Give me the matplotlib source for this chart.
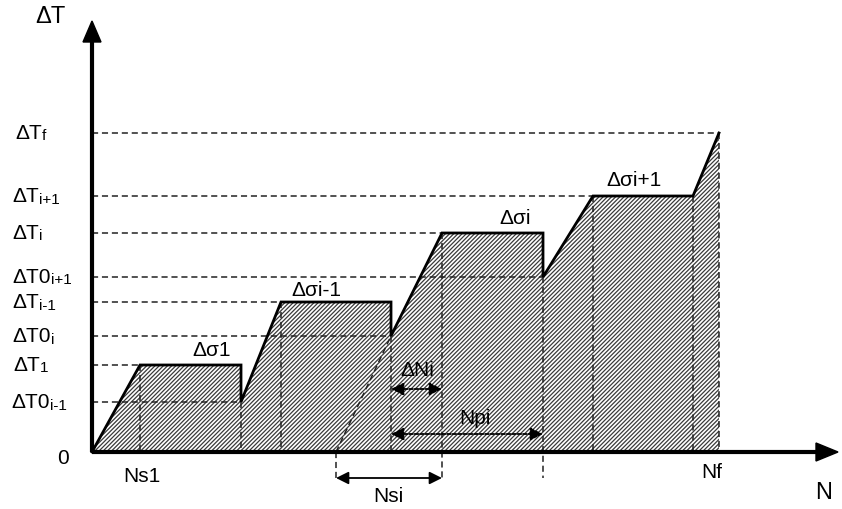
import matplotlib
matplotlib.use("Agg")
import matplotlib.pyplot as plt
from matplotlib.patches import Polygon, FancyArrowPatch

plt.rcParams['font.family'] = ['Liberation Sans', 'DejaVu Sans']

# Schematic coordinates (pixel-like units, y grows downward)
X0, Y0 = 92, 452
# loading history vertices (x, y)
curve_x = [92, 140, 241, 241, 281, 391, 391, 442, 543, 543, 593, 693, 719, 719]
curve_y = [452, 365, 365, 402, 302, 302, 336, 233, 233, 277, 196, 196, 133, 452]

# y-level labels and their pixel levels
level_labels = [('ΔT', 'f'), ('ΔT', 'i+1'), ('ΔT', 'i'), ('ΔT0', 'i+1'),
                ('ΔT', 'i-1'), ('ΔT0', 'i'), ('ΔT', '1'), ('ΔT0', 'i-1')]
level_y = [133, 196, 233, 277, 302, 336, 365, 402]
level_xend = [719, 593, 442, 543, 281, 391, 140, 241]
level_label_x = [15, 12, 12, 12, 12, 12, 13, 11]

# vertical dashed lines: x, y_top, y_bottom
vline_x = [140, 241, 281, 391, 442, 543, 593, 693, 719]
vline_top = [365, 402, 302, 336, 233, 277, 196, 196, 133]
vline_bot = [452, 452, 452, 452, 480, 478, 452, 452, 452]

stage_labels = ['Δσ1', 'Δσi-1', 'Δσi', 'Δσi+1']
stage_pos = [(212, 350), (316, 291), (515, 219), (634, 180)]

fig = plt.figure(figsize=(8.42, 5.09), dpi=100)
ax = fig.add_axes([0, 0, 1, 1])
ax.set_xlim(0, 842)
ax.set_ylim(509, 0)
ax.axis('off')

plt.rcParams['hatch.linewidth'] = 0.9
poly = Polygon(list(zip(curve_x, curve_y)), closed=True, facecolor='white',
               edgecolor='#3a3a3a', hatch='////////', linewidth=0, zorder=1)
ax.add_patch(poly)

# loading path outline
ax.plot(curve_x[:-1], curve_y[:-1], color='black', lw=2.0, zorder=4,
        solid_joinstyle='miter')

dash = dict(color='#222222', lw=1.1, ls=(0, (4, 2.5)), zorder=3)
for y, xe in zip(level_y, level_xend):
    ax.plot([X0, xe], [y, y], **dash)
for x, yt, yb in zip(vline_x, vline_top, vline_bot):
    ax.plot([x, x], [yt, yb], **dash)
# Nsi start vertical and extrapolated ramp
ax.plot([336, 336], [452, 480], **dash)
ax.plot([336, 391], [452, 336], **dash)

# axes with arrows
ax.plot([X0, X0], [Y0, 40], color='black', lw=3, zorder=5, solid_capstyle='butt')
ax.plot([X0, 820], [Y0, Y0], color='black', lw=3, zorder=5, solid_capstyle='butt')
ax.add_patch(Polygon([(83, 42), (101, 42), (92, 21)], closed=True,
                     color='black', zorder=6))
ax.add_patch(Polygon([(816, 443), (816, 461), (838, 452)], closed=True,
                     color='black', zorder=6))

# dimension arrows
def darrow(x1, x2, y, ls):
    a = FancyArrowPatch((x1, y), (x2, y), arrowstyle='<|-|>,head_length=5,head_width=2.5',
                        mutation_scale=1.5, color='black', lw=1.3, ls=ls, zorder=6,
                        shrinkA=0, shrinkB=0)
    ax.add_patch(a)

darrow(391, 442, 389, (0, (2, 1)))
darrow(391, 543, 434, (0, (2, 1)))
darrow(336, 442, 478, '-')

fs = 15
fs_sub = 11
renderer = fig.canvas.get_renderer()
for (main, sub), y, lx in zip(level_labels, level_y, level_label_x):
    t = ax.text(lx, y + 6, main, fontsize=fs, ha='left', va='baseline')
    bb = t.get_window_extent(renderer=renderer)
    xr = ax.transData.inverted().transform((bb.x1, bb.y0))[0]
    ax.text(xr + 0.5, y + 7.5, sub, fontsize=fs_sub, ha='left', va='baseline')

ax.text(63, 458, '0', fontsize=fs, ha='center', va='center')
ax.text(50, 17, 'ΔT', fontsize=17, ha='center', va='center')
ax.text(824, 493, 'N', fontsize=17, ha='center', va='center')
ax.text(142, 476, 'Ns1', fontsize=fs, ha='center', va='center')
ax.text(712, 473, 'Nf', fontsize=fs, ha='center', va='center')
ax.text(388, 497, 'Nsi', fontsize=fs, ha='center', va='center')
ax.text(417, 370, 'ΔNi', fontsize=fs, ha='center', va='center')
ax.text(475, 418, 'Npi', fontsize=fs, ha='center', va='center')
for lab, (x, y) in zip(stage_labels, stage_pos):
    ax.text(x, y, lab, fontsize=fs, ha='center', va='center')

fig.savefig('out.png', dpi=100)
